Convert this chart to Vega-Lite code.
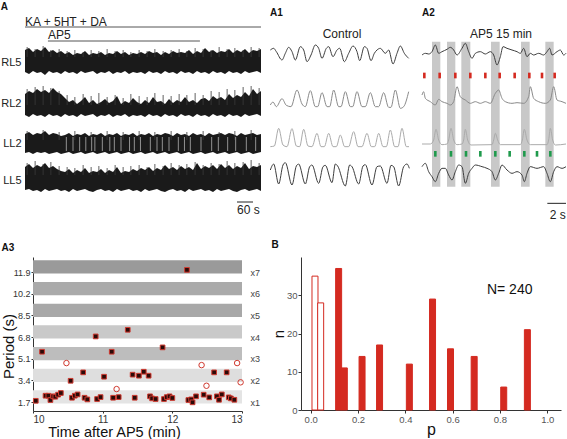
{
"$schema": "https://vega.github.io/schema/vega-lite/v6.json",
"padding": {"left": 0, "top": 1, "right": 0, "bottom": 0},
"config": {
  "font": "Liberation Sans",
  "view": {"stroke": null},
  "axis": {"labelFont": "Liberation Sans", "titleFont": "Liberation Sans", "labelColor": "#333", "titleColor": "#111", "domainColor": "#333", "tickColor": "#333", "grid": false, "titleFontWeight": "normal"},
  "title": {"font": "Liberation Sans", "fontSize": 10, "fontWeight": "bold", "anchor": "start", "frame": "bounds", "offset": 0, "color": "#111"}
},
"datasets": {
  "rawA": [
{"t":0,"r5t":45,"r5b":67,"r2t":89,"r2b":110,"l2t":129,"l2b":148,"l5t":162,"l5b":185},
{"t":15,"r5t":43,"r5b":69,"r2t":86,"r2b":112,"l2t":127,"l2b":147,"l5t":159,"l5b":184},
{"t":30,"r5t":47,"r5b":66,"r2t":88,"r2b":109,"l2t":130,"l2b":149,"l5t":163,"l5b":186},
{"t":45,"r5t":44,"r5b":68,"r2t":84,"r2b":111,"l2t":128,"l2b":147,"l5t":160,"l5b":185},
{"t":60,"r5t":46,"r5b":67,"r2t":87,"r2b":110,"l2t":129,"l2b":148,"l5t":162,"l5b":187},
{"t":75,"r5t":42,"r5b":70,"r2t":85,"r2b":112,"l2t":126,"l2b":147,"l5t":158,"l5b":184},
{"t":90,"r5t":47,"r5b":66,"r2t":88,"r2b":109,"l2t":130,"l2b":149,"l5t":163,"l5b":186},
{"t":105,"r5t":45,"r5b":68,"r2t":83,"r2b":111,"l2t":128,"l2b":148,"l5t":161,"l5b":185},
{"t":120,"r5t":48,"r5b":67,"r2t":87,"r2b":110,"l2t":129,"l2b":147,"l5t":164,"l5b":184},
{"t":135,"r5t":46,"r5b":69,"r2t":89,"r2b":112,"l2t":131,"l2b":149,"l5t":166,"l5b":186},
{"t":150,"r5t":49,"r5b":66,"r2t":93,"r2b":109,"l2t":130,"l2b":148,"l5t":167,"l5b":185},
{"t":165,"r5t":47,"r5b":68,"r2t":97,"r2b":111,"l2t":128,"l2b":147,"l5t":164,"l5b":187},
{"t":180,"r5t":50,"r5b":67,"r2t":95,"r2b":110,"l2t":131,"l2b":149,"l5t":168,"l5b":184},
{"t":195,"r5t":48,"r5b":69,"r2t":99,"r2b":112,"l2t":129,"l2b":148,"l5t":165,"l5b":186},
{"t":210,"r5t":49,"r5b":66,"r2t":96,"r2b":109,"l2t":130,"l2b":147,"l5t":167,"l5b":185},
{"t":225,"r5t":46,"r5b":68,"r2t":92,"r2b":111,"l2t":128,"l2b":149,"l5t":163,"l5b":184},
{"t":240,"r5t":50,"r5b":67,"r2t":98,"r2b":110,"l2t":131,"l2b":148,"l5t":168,"l5b":186},
{"t":255,"r5t":48,"r5b":66,"r2t":95,"r2b":109,"l2t":129,"l2b":147,"l5t":166,"l5b":187},
{"t":270,"r5t":49,"r5b":69,"r2t":99,"r2b":112,"l2t":130,"l2b":149,"l5t":167,"l5b":185},
{"t":285,"r5t":47,"r5b":67,"r2t":97,"r2b":110,"l2t":128,"l2b":148,"l5t":164,"l5b":184},
{"t":300,"r5t":50,"r5b":68,"r2t":94,"r2b":111,"l2t":131,"l2b":147,"l5t":168,"l5b":186},
{"t":315,"r5t":48,"r5b":66,"r2t":98,"r2b":109,"l2t":129,"l2b":149,"l5t":165,"l5b":185},
{"t":330,"r5t":49,"r5b":69,"r2t":96,"r2b":112,"l2t":130,"l2b":148,"l5t":167,"l5b":187},
{"t":345,"r5t":46,"r5b":67,"r2t":91,"r2b":110,"l2t":128,"l2b":147,"l5t":162,"l5b":184},
{"t":360,"r5t":49,"r5b":68,"r2t":99,"r2b":111,"l2t":131,"l2b":149,"l5t":168,"l5b":186},
{"t":375,"r5t":47,"r5b":66,"r2t":96,"r2b":109,"l2t":129,"l2b":148,"l5t":166,"l5b":185},
{"t":390,"r5t":50,"r5b":69,"r2t":98,"r2b":112,"l2t":130,"l2b":147,"l5t":167,"l5b":184},
{"t":405,"r5t":48,"r5b":67,"r2t":93,"r2b":110,"l2t":128,"l2b":149,"l5t":164,"l5b":186},
{"t":420,"r5t":49,"r5b":68,"r2t":97,"r2b":111,"l2t":131,"l2b":148,"l5t":166,"l5b":185},
{"t":435,"r5t":47,"r5b":67,"r2t":99,"r2b":110,"l2t":129,"l2b":147,"l5t":163,"l5b":187},
{"t":450,"r5t":49,"r5b":69,"r2t":95,"r2b":112,"l2t":130,"l2b":149,"l5t":165,"l5b":184},
{"t":465,"r5t":46,"r5b":66,"r2t":98,"r2b":109,"l2t":128,"l2b":148,"l5t":162,"l5b":186},
{"t":480,"r5t":48,"r5b":68,"r2t":92,"r2b":111,"l2t":131,"l2b":147,"l5t":166,"l5b":185},
{"t":495,"r5t":47,"r5b":67,"r2t":97,"r2b":110,"l2t":129,"l2b":149,"l5t":163,"l5b":184},
{"t":510,"r5t":50,"r5b":69,"r2t":96,"r2b":112,"l2t":130,"l2b":148,"l5t":165,"l5b":186},
{"t":525,"r5t":47,"r5b":66,"r2t":99,"r2b":109,"l2t":128,"l2b":147,"l5t":160,"l5b":187},
{"t":540,"r5t":49,"r5b":68,"r2t":94,"r2b":111,"l2t":129,"l2b":149,"l5t":164,"l5b":185},
{"t":555,"r5t":46,"r5b":67,"r2t":98,"r2b":110,"l2t":131,"l2b":148,"l5t":162,"l5b":184},
{"t":570,"r5t":48,"r5b":69,"r2t":95,"r2b":112,"l2t":128,"l2b":147,"l5t":165,"l5b":186},
{"t":585,"r5t":47,"r5b":66,"r2t":97,"r2b":109,"l2t":130,"l2b":149,"l5t":161,"l5b":185},
{"t":600,"r5t":48,"r5b":68,"r2t":92,"r2b":111,"l2t":129,"l2b":148,"l5t":164,"l5b":187},
{"t":615,"r5t":45,"r5b":67,"r2t":97,"r2b":110,"l2t":131,"l2b":147,"l5t":162,"l5b":184},
{"t":630,"r5t":49,"r5b":69,"r2t":95,"r2b":112,"l2t":128,"l2b":149,"l5t":165,"l5b":186},
{"t":645,"r5t":46,"r5b":66,"r2t":98,"r2b":109,"l2t":130,"l2b":148,"l5t":158,"l5b":185},
{"t":660,"r5t":48,"r5b":68,"r2t":94,"r2b":111,"l2t":129,"l2b":147,"l5t":164,"l5b":184},
{"t":675,"r5t":43,"r5b":67,"r2t":93,"r2b":110,"l2t":131,"l2b":149,"l5t":161,"l5b":186},
{"t":690,"r5t":47,"r5b":69,"r2t":96,"r2b":112,"l2t":128,"l2b":148,"l5t":163,"l5b":185},
{"t":705,"r5t":45,"r5b":66,"r2t":91,"r2b":109,"l2t":130,"l2b":147,"l5t":160,"l5b":187},
{"t":720,"r5t":48,"r5b":68,"r2t":94,"r2b":111,"l2t":129,"l2b":149,"l5t":164,"l5b":184},
{"t":735,"r5t":46,"r5b":67,"r2t":92,"r2b":110,"l2t":128,"l2b":148,"l5t":159,"l5b":186},
{"t":750,"r5t":47,"r5b":69,"r2t":95,"r2b":112,"l2t":130,"l2b":147,"l5t":163,"l5b":185},
{"t":765,"r5t":44,"r5b":66,"r2t":89,"r2b":109,"l2t":128,"l2b":149,"l5t":160,"l5b":184},
{"t":780,"r5t":48,"r5b":68,"r2t":93,"r2b":111,"l2t":129,"l2b":148,"l5t":164,"l5b":186},
{"t":795,"r5t":45,"r5b":67,"r2t":90,"r2b":110,"l2t":131,"l2b":147,"l5t":161,"l5b":187},
{"t":810,"r5t":47,"r5b":69,"r2t":92,"r2b":112,"l2t":128,"l2b":149,"l5t":163,"l5b":185},
{"t":825,"r5t":44,"r5b":66,"r2t":87,"r2b":109,"l2t":130,"l2b":148,"l5t":158,"l5b":184},
{"t":840,"r5t":48,"r5b":68,"r2t":91,"r2b":111,"l2t":129,"l2b":147,"l5t":164,"l5b":186},
{"t":855,"r5t":45,"r5b":67,"r2t":84,"r2b":110,"l2t":128,"l2b":149,"l5t":161,"l5b":185},
{"t":870,"r5t":46,"r5b":66,"r2t":89,"r2b":109,"l2t":130,"l2b":148,"l5t":162,"l5b":184},
{"t":885,"r5t":44,"r5b":68,"r2t":86,"r2b":111,"l2t":129,"l2b":147,"l5t":160,"l5b":186}
  ],
  "spikesA": [
{"t":8,"a":42,"b":52},{"t":38,"a":44,"b":52},{"t":68,"a":41,"b":52},{"t":97,"a":45,"b":52},{"t":128,"a":44,"b":52},{"t":158,"a":46,"b":52},{"t":187,"a":45,"b":52},{"t":218,"a":47,"b":52},{"t":248,"a":45,"b":52},{"t":277,"a":46,"b":52},{"t":308,"a":44,"b":52},{"t":338,"a":46,"b":52},{"t":368,"a":45,"b":52},{"t":397,"a":47,"b":52},{"t":428,"a":45,"b":52},{"t":458,"a":46,"b":52},{"t":487,"a":44,"b":52},{"t":518,"a":46,"b":52},{"t":548,"a":45,"b":52},{"t":578,"a":44,"b":52},{"t":607,"a":46,"b":52},{"t":638,"a":43,"b":52},{"t":668,"a":44,"b":52},{"t":698,"a":45,"b":52},{"t":728,"a":42,"b":52},{"t":758,"a":44,"b":52},{"t":787,"a":43,"b":52},{"t":818,"a":45,"b":52},{"t":848,"a":42,"b":52},{"t":878,"a":43,"b":52},
{"t":8,"a":84,"b":100},{"t":38,"a":82,"b":100},{"t":68,"a":81,"b":100},{"t":97,"a":83,"b":100},{"t":128,"a":86,"b":100},{"t":158,"a":90,"b":100},{"t":187,"a":92,"b":100},{"t":218,"a":89,"b":100},{"t":248,"a":91,"b":100},{"t":277,"a":88,"b":100},{"t":308,"a":92,"b":100},{"t":338,"a":90,"b":100},{"t":368,"a":93,"b":100},{"t":397,"a":89,"b":100},{"t":428,"a":91,"b":100},{"t":458,"a":92,"b":100},{"t":487,"a":88,"b":100},{"t":518,"a":90,"b":100},{"t":548,"a":91,"b":100},{"t":578,"a":89,"b":100},{"t":607,"a":90,"b":100},{"t":638,"a":88,"b":100},{"t":668,"a":90,"b":100},{"t":698,"a":86,"b":100},{"t":728,"a":87,"b":100},{"t":758,"a":84,"b":100},{"t":787,"a":85,"b":100},{"t":818,"a":82,"b":100},{"t":848,"a":81,"b":100},{"t":878,"a":83,"b":100},
{"t":8,"a":126,"b":135},{"t":68,"a":125,"b":135},{"t":128,"a":127,"b":135},{"t":187,"a":126,"b":135},{"t":248,"a":127,"b":135},{"t":308,"a":126,"b":135},{"t":368,"a":127,"b":135},{"t":428,"a":126,"b":135},{"t":487,"a":127,"b":135},{"t":548,"a":126,"b":135},{"t":607,"a":127,"b":135},{"t":668,"a":126,"b":135},{"t":728,"a":127,"b":135},{"t":787,"a":126,"b":135},{"t":848,"a":125,"b":135},
{"t":8,"a":158,"b":170},{"t":38,"a":156,"b":170},{"t":68,"a":159,"b":170},{"t":97,"a":157,"b":170},{"t":128,"a":161,"b":170},{"t":158,"a":162,"b":170},{"t":187,"a":163,"b":170},{"t":218,"a":160,"b":170},{"t":248,"a":162,"b":170},{"t":277,"a":161,"b":170},{"t":308,"a":163,"b":170},{"t":338,"a":160,"b":170},{"t":368,"a":162,"b":170},{"t":397,"a":161,"b":170},{"t":428,"a":160,"b":170},{"t":458,"a":162,"b":170},{"t":487,"a":159,"b":170},{"t":518,"a":161,"b":170},{"t":548,"a":158,"b":170},{"t":578,"a":160,"b":170},{"t":607,"a":159,"b":170},{"t":638,"a":157,"b":170},{"t":668,"a":160,"b":170},{"t":698,"a":158,"b":170},{"t":728,"a":159,"b":170},{"t":758,"a":156,"b":170},{"t":787,"a":158,"b":170},{"t":818,"a":157,"b":170},{"t":848,"a":155,"b":170},{"t":878,"a":158,"b":170}
  ],
  "gapsLL2": [{"t":155},{"t":180},{"t":205},{"t":228},{"t":250},{"t":262},{"t":290},{"t":318},{"t":335},{"t":360},{"t":392},{"t":410},{"t":433},{"t":470},{"t":495},{"t":515},{"t":540},{"t":575},{"t":598},{"t":620},{"t":660},{"t":700},{"t":725},{"t":760},{"t":790},{"t":830},{"t":865}],
  "a1": [
{"tr":"t1","x":10,"y":30},{"tr":"t1","x":20,"y":25},{"tr":"t1","x":28,"y":35},{"tr":"t1","x":45,"y":60},{"tr":"t1","x":55,"y":40},{"tr":"t1","x":65,"y":22},{"tr":"t1","x":75,"y":35},{"tr":"t1","x":85,"y":60},{"tr":"t1","x":100,"y":20},{"tr":"t1","x":110,"y":30},{"tr":"t1","x":120,"y":65},{"tr":"t1","x":132,"y":45},{"tr":"t1","x":145,"y":15},{"tr":"t1","x":155,"y":25},{"tr":"t1","x":165,"y":55},{"tr":"t1","x":178,"y":25},{"tr":"t1","x":185,"y":20},{"tr":"t1","x":198,"y":50},{"tr":"t1","x":210,"y":30},{"tr":"t1","x":218,"y":25},{"tr":"t1","x":232,"y":65},{"tr":"t1","x":245,"y":40},{"tr":"t1","x":258,"y":18},{"tr":"t1","x":270,"y":35},{"tr":"t1","x":278,"y":62},{"tr":"t1","x":292,"y":20},{"tr":"t1","x":300,"y":25},{"tr":"t1","x":312,"y":62},{"tr":"t1","x":322,"y":40},{"tr":"t1","x":330,"y":30},{"tr":"t1","x":340,"y":25},{"tr":"t1","x":355,"y":40},{"tr":"t1","x":365,"y":30},{"tr":"t1","x":378,"y":72},{"tr":"t1","x":390,"y":40},{"tr":"t1","x":400,"y":18},{"tr":"t1","x":412,"y":40},{"tr":"t1","x":425,"y":55},
{"tr":"t2","x":10,"y":195},{"tr":"t2","x":18,"y":186},{"tr":"t2","x":28,"y":200},{"tr":"t2","x":45,"y":176},{"tr":"t2","x":58,"y":196},{"tr":"t2","x":72,"y":200},{"tr":"t2","x":90,"y":150},{"tr":"t2","x":105,"y":192},{"tr":"t2","x":115,"y":200},{"tr":"t2","x":130,"y":152},{"tr":"t2","x":145,"y":200},{"tr":"t2","x":152,"y":200},{"tr":"t2","x":165,"y":158},{"tr":"t2","x":180,"y":200},{"tr":"t2","x":188,"y":200},{"tr":"t2","x":200,"y":150},{"tr":"t2","x":215,"y":200},{"tr":"t2","x":222,"y":200},{"tr":"t2","x":235,"y":155},{"tr":"t2","x":250,"y":200},{"tr":"t2","x":257,"y":200},{"tr":"t2","x":270,"y":155},{"tr":"t2","x":285,"y":200},{"tr":"t2","x":295,"y":200},{"tr":"t2","x":310,"y":158},{"tr":"t2","x":325,"y":200},{"tr":"t2","x":335,"y":200},{"tr":"t2","x":350,"y":158},{"tr":"t2","x":365,"y":202},{"tr":"t2","x":372,"y":202},{"tr":"t2","x":385,"y":150},{"tr":"t2","x":400,"y":205},{"tr":"t2","x":410,"y":200},{"tr":"t2","x":425,"y":155},
{"tr":"t3","x":10,"y":320},{"tr":"t3","x":22,"y":318},{"tr":"t3","x":35,"y":265},{"tr":"t3","x":48,"y":315},{"tr":"t3","x":60,"y":320},{"tr":"t3","x":75,"y":266},{"tr":"t3","x":88,"y":318},{"tr":"t3","x":98,"y":320},{"tr":"t3","x":110,"y":268},{"tr":"t3","x":123,"y":318},{"tr":"t3","x":135,"y":320},{"tr":"t3","x":150,"y":280},{"tr":"t3","x":162,"y":320},{"tr":"t3","x":172,"y":320},{"tr":"t3","x":185,"y":280},{"tr":"t3","x":198,"y":320},{"tr":"t3","x":208,"y":320},{"tr":"t3","x":220,"y":285},{"tr":"t3","x":233,"y":320},{"tr":"t3","x":245,"y":320},{"tr":"t3","x":260,"y":275},{"tr":"t3","x":273,"y":320},{"tr":"t3","x":285,"y":320},{"tr":"t3","x":300,"y":280},{"tr":"t3","x":313,"y":320},{"tr":"t3","x":323,"y":320},{"tr":"t3","x":335,"y":280},{"tr":"t3","x":348,"y":320},{"tr":"t3","x":358,"y":320},{"tr":"t3","x":370,"y":270},{"tr":"t3","x":383,"y":320},{"tr":"t3","x":393,"y":320},{"tr":"t3","x":405,"y":265},{"tr":"t3","x":418,"y":320},{"tr":"t3","x":426,"y":320},
{"tr":"t4","x":10,"y":390},{"tr":"t4","x":20,"y":372},{"tr":"t4","x":35,"y":432},{"tr":"t4","x":48,"y":375},{"tr":"t4","x":55,"y":368},{"tr":"t4","x":75,"y":435},{"tr":"t4","x":88,"y":378},{"tr":"t4","x":95,"y":372},{"tr":"t4","x":115,"y":432},{"tr":"t4","x":128,"y":380},{"tr":"t4","x":135,"y":375},{"tr":"t4","x":155,"y":430},{"tr":"t4","x":168,"y":380},{"tr":"t4","x":175,"y":376},{"tr":"t4","x":195,"y":428},{"tr":"t4","x":205,"y":372},{"tr":"t4","x":212,"y":378},{"tr":"t4","x":235,"y":438},{"tr":"t4","x":248,"y":375},{"tr":"t4","x":255,"y":380},{"tr":"t4","x":275,"y":432},{"tr":"t4","x":288,"y":378},{"tr":"t4","x":295,"y":374},{"tr":"t4","x":315,"y":435},{"tr":"t4","x":330,"y":380},{"tr":"t4","x":340,"y":378},{"tr":"t4","x":360,"y":430},{"tr":"t4","x":372,"y":376},{"tr":"t4","x":380,"y":380},{"tr":"t4","x":395,"y":438},{"tr":"t4","x":410,"y":380},{"tr":"t4","x":420,"y":372},{"tr":"t4","x":427,"y":385}
  ],
  "a2": [
{"tr":"t1","x":15,"y":45},{"tr":"t1","x":25,"y":40},{"tr":"t1","x":35,"y":42},{"tr":"t1","x":45,"y":35},{"tr":"t1","x":55,"y":15},{"tr":"t1","x":65,"y":40},{"tr":"t1","x":75,"y":35},{"tr":"t1","x":90,"y":28},{"tr":"t1","x":100,"y":22},{"tr":"t1","x":110,"y":30},{"tr":"t1","x":120,"y":45},{"tr":"t1","x":135,"y":25},{"tr":"t1","x":145,"y":10},{"tr":"t1","x":155,"y":35},{"tr":"t1","x":165,"y":55},{"tr":"t1","x":175,"y":40},{"tr":"t1","x":190,"y":35},{"tr":"t1","x":205,"y":42},{"tr":"t1","x":220,"y":35},{"tr":"t1","x":230,"y":45},{"tr":"t1","x":240,"y":75},{"tr":"t1","x":250,"y":50},{"tr":"t1","x":258,"y":20},{"tr":"t1","x":270,"y":25},{"tr":"t1","x":285,"y":30},{"tr":"t1","x":300,"y":35},{"tr":"t1","x":310,"y":40},{"tr":"t1","x":320,"y":25},{"tr":"t1","x":330,"y":50},{"tr":"t1","x":340,"y":40},{"tr":"t1","x":350,"y":45},{"tr":"t1","x":365,"y":40},{"tr":"t1","x":380,"y":45},{"tr":"t1","x":390,"y":35},{"tr":"t1","x":398,"y":25},{"tr":"t1","x":405,"y":45},{"tr":"t1","x":420,"y":35},{"tr":"t1","x":430,"y":30},{"tr":"t1","x":440,"y":45},{"tr":"t1","x":447,"y":40},
{"tr":"t2","x":15,"y":165},{"tr":"t2","x":20,"y":155},{"tr":"t2","x":25,"y":175},{"tr":"t2","x":40,"y":185},{"tr":"t2","x":55,"y":195},{"tr":"t2","x":65,"y":178},{"tr":"t2","x":75,"y":185},{"tr":"t2","x":90,"y":190},{"tr":"t2","x":100,"y":195},{"tr":"t2","x":110,"y":185},{"tr":"t2","x":120,"y":140},{"tr":"t2","x":130,"y":170},{"tr":"t2","x":145,"y":180},{"tr":"t2","x":160,"y":190},{"tr":"t2","x":175,"y":185},{"tr":"t2","x":190,"y":190},{"tr":"t2","x":205,"y":185},{"tr":"t2","x":220,"y":190},{"tr":"t2","x":235,"y":160},{"tr":"t2","x":245,"y":150},{"tr":"t2","x":255,"y":175},{"tr":"t2","x":265,"y":185},{"tr":"t2","x":285,"y":190},{"tr":"t2","x":300,"y":188},{"tr":"t2","x":320,"y":190},{"tr":"t2","x":335,"y":170},{"tr":"t2","x":340,"y":140},{"tr":"t2","x":350,"y":175},{"tr":"t2","x":365,"y":185},{"tr":"t2","x":385,"y":190},{"tr":"t2","x":400,"y":180},{"tr":"t2","x":410,"y":140},{"tr":"t2","x":420,"y":180},{"tr":"t2","x":435,"y":185},{"tr":"t2","x":447,"y":190},
{"tr":"t3","x":15,"y":312},{"tr":"t3","x":40,"y":312},{"tr":"t3","x":50,"y":300},{"tr":"t3","x":57,"y":268},{"tr":"t3","x":65,"y":300},{"tr":"t3","x":75,"y":314},{"tr":"t3","x":90,"y":312},{"tr":"t3","x":95,"y":300},{"tr":"t3","x":102,"y":265},{"tr":"t3","x":110,"y":300},{"tr":"t3","x":120,"y":314},{"tr":"t3","x":135,"y":312},{"tr":"t3","x":140,"y":300},{"tr":"t3","x":145,"y":268},{"tr":"t3","x":152,"y":300},{"tr":"t3","x":162,"y":315},{"tr":"t3","x":225,"y":314},{"tr":"t3","x":230,"y":300},{"tr":"t3","x":235,"y":280},{"tr":"t3","x":242,"y":300},{"tr":"t3","x":250,"y":314},{"tr":"t3","x":310,"y":314},{"tr":"t3","x":316,"y":300},{"tr":"t3","x":322,"y":268},{"tr":"t3","x":330,"y":300},{"tr":"t3","x":340,"y":314},{"tr":"t3","x":390,"y":314},{"tr":"t3","x":395,"y":300},{"tr":"t3","x":400,"y":265},{"tr":"t3","x":407,"y":300},{"tr":"t3","x":415,"y":315},{"tr":"t3","x":447,"y":312},
{"tr":"t4","x":15,"y":380},{"tr":"t4","x":25,"y":370},{"tr":"t4","x":35,"y":395},{"tr":"t4","x":45,"y":410},{"tr":"t4","x":55,"y":425},{"tr":"t4","x":65,"y":400},{"tr":"t4","x":75,"y":385},{"tr":"t4","x":85,"y":385},{"tr":"t4","x":95,"y":405},{"tr":"t4","x":105,"y":420},{"tr":"t4","x":115,"y":395},{"tr":"t4","x":125,"y":375},{"tr":"t4","x":135,"y":380},{"tr":"t4","x":145,"y":430},{"tr":"t4","x":155,"y":400},{"tr":"t4","x":165,"y":385},{"tr":"t4","x":175,"y":375},{"tr":"t4","x":195,"y":380},{"tr":"t4","x":210,"y":385},{"tr":"t4","x":225,"y":395},{"tr":"t4","x":235,"y":420},{"tr":"t4","x":245,"y":400},{"tr":"t4","x":255,"y":375},{"tr":"t4","x":270,"y":390},{"tr":"t4","x":285,"y":400},{"tr":"t4","x":300,"y":395},{"tr":"t4","x":315,"y":405},{"tr":"t4","x":322,"y":425},{"tr":"t4","x":330,"y":400},{"tr":"t4","x":340,"y":380},{"tr":"t4","x":360,"y":385},{"tr":"t4","x":380,"y":380},{"tr":"t4","x":390,"y":400},{"tr":"t4","x":400,"y":425},{"tr":"t4","x":410,"y":395},{"tr":"t4","x":420,"y":380},{"tr":"t4","x":435,"y":385},{"tr":"t4","x":447,"y":380}
  ],
  "bursts": [{"s":45,"e":70},{"s":90,"e":115},{"s":133,"e":160},{"s":222,"e":248},{"s":312,"e":338},{"s":385,"e":410}],
  "redTicks": [{"x":22},{"x":68},{"x":115},{"x":160},{"x":205},{"x":248},{"x":293},{"x":337},{"x":375},{"x":413}],
  "greenTicks": [{"x":55},{"x":102},{"x":147},{"x":190},{"x":235},{"x":278},{"x":322},{"x":360},{"x":400}],
  "bands": [{"k":"x1","lo":1.58,"hi":2.62},{"k":"x2","lo":3.28,"hi":4.32},{"k":"x3","lo":4.98,"hi":6.02},{"k":"x4","lo":6.68,"hi":7.72},{"k":"x5","lo":8.38,"hi":9.42},{"k":"x6","lo":10.08,"hi":11.12},{"k":"x7","lo":11.78,"hi":12.82}],
  "periods": [
{"t":10.04,"p":1.80,"kind":"sq"},{"t":10.18,"p":2.20,"kind":"sq"},{"t":10.22,"p":2.20,"kind":"sq"},{"t":10.25,"p":1.86,"kind":"sq"},{"t":10.29,"p":2.15,"kind":"sq"},{"t":10.32,"p":2.12,"kind":"sq"},{"t":10.36,"p":2.28,"kind":"sq"},{"t":10.40,"p":2.41,"kind":"sq"},{"t":10.56,"p":2.04,"kind":"sq"},{"t":10.60,"p":2.20,"kind":"sq"},{"t":10.64,"p":2.30,"kind":"sq"},{"t":10.74,"p":2.04,"kind":"sq"},{"t":10.78,"p":1.91,"kind":"sq"},{"t":10.92,"p":1.94,"kind":"sq"},{"t":10.97,"p":2.09,"kind":"sq"},{"t":11.15,"p":2.04,"kind":"sq"},{"t":11.23,"p":2.09,"kind":"sq"},{"t":11.46,"p":2.04,"kind":"sq"},{"t":11.68,"p":2.15,"kind":"sq"},{"t":11.71,"p":1.99,"kind":"sq"},{"t":11.76,"p":1.94,"kind":"sq"},{"t":11.88,"p":1.94,"kind":"sq"},{"t":11.92,"p":2.09,"kind":"sq"},{"t":11.96,"p":2.15,"kind":"sq"},{"t":12.00,"p":2.02,"kind":"sq"},{"t":12.23,"p":1.86,"kind":"sq"},{"t":12.27,"p":1.91,"kind":"sq"},{"t":12.29,"p":1.68,"kind":"sq"},{"t":12.34,"p":2.15,"kind":"sq"},{"t":12.45,"p":2.28,"kind":"sq"},{"t":12.53,"p":2.07,"kind":"sq"},{"t":12.64,"p":2.15,"kind":"sq"},{"t":12.67,"p":1.88,"kind":"sq"},{"t":12.71,"p":2.30,"kind":"sq"},{"t":12.81,"p":2.07,"kind":"sq"},{"t":12.84,"p":1.99,"kind":"sq"},{"t":12.89,"p":1.88,"kind":"sq"},
{"t":10.54,"p":3.37,"kind":"sq"},{"t":10.72,"p":4.03,"kind":"sq"},{"t":11.02,"p":3.69,"kind":"sq"},{"t":11.43,"p":3.85,"kind":"sq"},{"t":11.52,"p":3.77,"kind":"sq"},{"t":11.59,"p":4.08,"kind":"sq"},{"t":11.66,"p":3.77,"kind":"sq"},{"t":12.60,"p":4.03,"kind":"sq"},{"t":12.78,"p":4.03,"kind":"sq"},
{"t":10.13,"p":5.65,"kind":"sq"},{"t":11.13,"p":5.65,"kind":"sq"},{"t":11.86,"p":5.99,"kind":"sq"},{"t":10.90,"p":6.85,"kind":"sq"},{"t":11.36,"p":7.37,"kind":"sq"},{"t":12.21,"p":12.07,"kind":"sq"},
{"t":10.48,"p":4.76,"kind":"ci"},{"t":11.20,"p":2.72,"kind":"ci"},{"t":12.42,"p":4.60,"kind":"ci"},{"t":12.49,"p":2.98,"kind":"ci"},{"t":12.93,"p":4.76,"kind":"ci"},{"t":12.98,"p":3.25,"kind":"ci"}
  ],
  "hist": [
{"p":0.018,"n":35,"kind":"open"},{"p":0.042,"n":28,"kind":"open"},{"p":0.118,"n":37,"kind":"filled"},{"p":0.142,"n":11,"kind":"filled"},{"p":0.217,"n":14,"kind":"filled"},{"p":0.291,"n":17,"kind":"filled"},{"p":0.417,"n":12,"kind":"filled"},{"p":0.515,"n":29,"kind":"filled"},{"p":0.591,"n":16,"kind":"filled"},{"p":0.691,"n":14,"kind":"filled"},{"p":0.816,"n":6,"kind":"filled"},{"p":0.916,"n":21,"kind":"filled"}
  ]
},
"concat": [
 {"hconcat": [
  {
   "width": 228, "height": 197,
   "title": {"text": "A"},
   "layer": [
    {"data": {"name": "rawA"}, "mark": {"type": "area", "color": "#1a1a1a"},
     "encoding": {
       "x": {"field": "t", "type": "quantitative", "scale": {"domain": [30, 885], "nice": false, "zero": false}, "axis": null},
       "y": {"field": "r5t", "type": "quantitative", "scale": {"domain": [17, 214], "reverse": true, "nice": false, "zero": false},
             "axis": {"values": [57, 98, 138, 175], "labelExpr": "datum.value == 57 ? 'RL5' : datum.value == 98 ? 'RL2' : datum.value == 138 ? 'LL2' : 'LL5'", "domain": false, "ticks": false, "offset": 8, "labelFontSize": 11, "labelColor": "#222", "labelPadding": 4, "title": null}},
       "y2": {"field": "r5b"}}},
    {"data": {"name": "rawA"}, "mark": {"type": "area", "color": "#1a1a1a"},
     "encoding": {"x": {"field": "t", "type": "quantitative"}, "y": {"field": "r2t", "type": "quantitative"}, "y2": {"field": "r2b"}}},
    {"data": {"name": "rawA"}, "mark": {"type": "area", "color": "#1a1a1a"},
     "encoding": {"x": {"field": "t", "type": "quantitative"}, "y": {"field": "l2t", "type": "quantitative"}, "y2": {"field": "l2b"}}},
    {"data": {"name": "rawA"}, "mark": {"type": "area", "color": "#1a1a1a"},
     "encoding": {"x": {"field": "t", "type": "quantitative"}, "y": {"field": "l5t", "type": "quantitative"}, "y2": {"field": "l5b"}}},
    {"data": {"name": "spikesA"}, "mark": {"type": "rule", "color": "#3a3a3a", "strokeWidth": 0.8},
     "encoding": {"x": {"field": "t", "type": "quantitative"}, "y": {"field": "a", "type": "quantitative"}, "y2": {"field": "b"}}},
    {"data": {"name": "gapsLL2"}, "mark": {"type": "rule", "color": "#b0b0b0", "strokeWidth": 0.8},
     "encoding": {"x": {"field": "t", "type": "quantitative"}, "y": {"datum": 132}, "y2": {"datum": 146}}},
    {"data": {"values": [{"from": 0, "to": 885, "lvl": 22, "label": "KA + 5HT + DA", "ly": 20.5}, {"from": 86, "to": 656, "lvl": 36, "label": "AP5", "ly": 34}]},
     "layer": [
       {"mark": {"type": "rule", "color": "#555", "strokeWidth": 1},
        "encoding": {"x": {"field": "from", "type": "quantitative"}, "x2": {"field": "to"}, "y": {"field": "lvl", "type": "quantitative"}}},
       {"mark": {"type": "text", "align": "left", "baseline": "alphabetic", "fontSize": 12, "color": "#222"},
        "encoding": {"x": {"field": "from", "type": "quantitative"}, "y": {"field": "ly", "type": "quantitative"}, "text": {"field": "label"}}}
     ]},
    {"data": {"values": [{"a": 795, "b": 855, "label": "60 s"}]},
     "layer": [
       {"mark": {"type": "rule", "color": "#222", "strokeWidth": 1},
        "encoding": {"x": {"field": "a", "type": "quantitative"}, "x2": {"field": "b"}, "y": {"datum": 197}}},
       {"mark": {"type": "text", "align": "right", "baseline": "middle", "fontSize": 12, "color": "#222"},
        "encoding": {"x": {"datum": 880}, "y": {"datum": 205}, "text": {"field": "label"}}}
     ]}
   ]
  },
  {
   "width": 144, "height": 197,
   "title": {"text": "A1", "frame": "group"},
   "layer": [
    {"data": {"name": "a1"}, "mark": {"type": "line", "strokeWidth": 1, "interpolate": "monotone"},
     "encoding": {
       "x": {"field": "x", "type": "quantitative", "scale": {"domain": [9, 441], "nice": false, "zero": false}, "axis": null},
       "y": {"field": "y", "type": "quantitative", "scale": {"domain": [-54, 537], "reverse": true, "nice": false, "zero": false}, "axis": null},
       "color": {"field": "tr", "type": "nominal", "scale": {"domain": ["t1", "t2", "t3", "t4"], "range": ["#3d3d3d", "#8a8a8a", "#ababab", "#3d3d3d"]}, "legend": null}}},
    {"data": {"values": [{"label": "Control"}]}, "mark": {"type": "text", "fontSize": 12, "color": "#222", "baseline": "middle"},
     "encoding": {"x": {"datum": 225}, "y": {"datum": -18}, "text": {"field": "label"}}}
   ]
  },
  {
   "width": 144, "height": 197,
   "title": {"text": "A2", "frame": "group"},
   "layer": [
    {"data": {"name": "bursts"}, "mark": {"type": "rect", "color": "#c8c8c8"},
     "encoding": {
       "x": {"field": "s", "type": "quantitative", "scale": {"domain": [15, 447], "nice": false, "zero": false}, "axis": null},
       "x2": {"field": "e"},
       "y": {"datum": 5, "scale": {"domain": [-54, 537], "reverse": true, "nice": false, "zero": false}, "axis": null},
       "y2": {"datum": 440}}},
    {"data": {"name": "a2"}, "mark": {"type": "line", "strokeWidth": 1, "interpolate": "monotone"},
     "encoding": {
       "x": {"field": "x", "type": "quantitative"},
       "y": {"field": "y", "type": "quantitative"},
       "color": {"field": "tr", "type": "nominal", "scale": {"domain": ["t1", "t2", "t3", "t4"], "range": ["#3d3d3d", "#8a8a8a", "#ababab", "#3d3d3d"]}, "legend": null}}},
    {"data": {"name": "redTicks"}, "mark": {"type": "rule", "color": "#d42a20", "strokeWidth": 2.6},
     "encoding": {"x": {"field": "x", "type": "quantitative"}, "y": {"datum": 98}, "y2": {"datum": 115}}},
    {"data": {"name": "greenTicks"}, "mark": {"type": "rule", "color": "#1f9a4c", "strokeWidth": 2.6},
     "encoding": {"x": {"field": "x", "type": "quantitative"}, "y": {"datum": 333}, "y2": {"datum": 350}}},
    {"data": {"values": [{"label": "AP5 15 min", "a": 391, "b": 447, "s": "2 s"}]},
     "layer": [
       {"mark": {"type": "text", "fontSize": 12, "color": "#222", "baseline": "middle"},
        "encoding": {"x": {"datum": 252}, "y": {"datum": -18}, "text": {"field": "label"}}},
       {"mark": {"type": "rule", "color": "#222", "strokeWidth": 1},
        "encoding": {"x": {"field": "a", "type": "quantitative"}, "x2": {"field": "b"}, "y": {"datum": 490}}},
       {"mark": {"type": "text", "fontSize": 12, "color": "#222", "baseline": "middle", "align": "right"},
        "encoding": {"x": {"datum": 446}, "y": {"datum": 525}, "text": {"field": "s"}}}
     ]}
   ]
  }
 ], "spacing": 6},
 {"hconcat": [
  {
   "width": 209, "height": 154,
   "title": {"text": "A3", "offset": 4},
   "layer": [
    {"data": {"name": "bands"}, "mark": {"type": "rect"},
     "encoding": {
       "y": {"field": "lo", "type": "quantitative", "scale": {"domain": [1.0, 13.08], "nice": false, "zero": false},
             "axis": {"values": [1.7, 3.4, 5.1, 6.8, 8.5, 10.2, 11.9], "format": ".1f", "labelFontSize": 9, "tickSize": 2, "labelPadding": 1, "title": "Period (s)", "titleFontSize": 15, "titlePadding": -4, "titleY": 89}},
       "y2": {"field": "hi"},
       "color": {"field": "k", "type": "nominal", "scale": {"domain": ["x1", "x2", "x3", "x4", "x5", "x6", "x7"], "range": ["#e4e4e4", "#dedede", "#bdbdbd", "#c9c9c9", "#a8a8a8", "#aaaaaa", "#9a9a9a"]}, "legend": null}}},
    {"data": {"name": "periods"}, "transform": [{"filter": "datum.kind == 'sq'"}],
     "mark": {"type": "square", "size": 22, "filled": true, "color": "#2b0a08", "stroke": "#d03a30", "strokeWidth": 1, "opacity": 1},
     "encoding": {
       "x": {"field": "t", "type": "quantitative", "scale": {"domain": [10, 13], "nice": false, "zero": false},
             "axis": {"values": [10, 11, 12, 13], "format": "d", "labelFontSize": 10, "tickSize": 2, "labelPadding": 1, "title": "Time after AP5 (min)", "titleFontSize": 14.5, "titleBaseline": "alphabetic", "titleY": 25, "titleX": 81}},
       "y": {"field": "p", "type": "quantitative",
             "axis": {"orient": "right", "values": [1.7, 3.4, 5.1, 6.8, 8.5, 10.2, 11.9], "labelExpr": "'x' + round(datum.value / 1.7)", "domain": false, "ticks": false, "labelPadding": 8, "labelFontSize": 9, "labelColor": "#444", "title": null}}}},
    {"data": {"name": "periods"}, "transform": [{"filter": "datum.kind == 'ci'"}],
     "mark": {"type": "point", "shape": "circle", "size": 30, "filled": false, "color": "#d03a30", "strokeWidth": 1, "opacity": 1},
     "encoding": {"x": {"field": "t", "type": "quantitative"}, "y": {"field": "p", "type": "quantitative", "axis": null}}}
   ],
   "resolve": {"axis": {"y": "independent"}}
  },
  {
   "width": 260, "height": 153,
   "title": {"text": "B", "offset": 4, "dy": -3},
   "layer": [
    {"data": {"name": "hist"}, "mark": {"type": "bar", "width": 6, "stroke": "#d42a20", "strokeWidth": 1},
     "encoding": {
       "x": {"field": "p", "type": "quantitative", "scale": {"domain": [-0.02, 1.037], "nice": false, "zero": false},
             "axis": {"values": [0, 0.2, 0.4, 0.6, 0.8, 1.0], "format": ".1f", "labelFontSize": 9.5, "labelColor": "#555", "tickSize": 3, "labelPadding": 1, "title": "p", "titleFontSize": 16, "titleBaseline": "alphabetic", "titleY": 24}},
       "y": {"field": "n", "type": "quantitative", "scale": {"domain": [0, 40], "nice": false},
             "axis": {"values": [0, 10, 20, 30], "labelFontSize": 9.5, "labelColor": "#555", "tickSize": 3, "labelPadding": 1, "title": "n", "titleFontSize": 15, "titlePadding": 0}},
       "fill": {"field": "kind", "type": "nominal", "scale": {"domain": ["open", "filled"], "range": ["#ffffff", "#d42a20"]}, "legend": null}}},
    {"data": {"values": [{"label": "N= 240"}]}, "mark": {"type": "text", "align": "left", "baseline": "middle", "fontSize": 14, "color": "#111"},
     "encoding": {"x": {"datum": 0.745}, "y": {"datum": 31.4}, "text": {"field": "label"}}}
   ]
  }
 ], "spacing": 11, "resolve": {"scale": {"color": "independent", "fill": "independent"}}}
],
"columns": 1,
"align": "none",
"spacing": 19,
"resolve": {"scale": {"color": "independent", "fill": "independent"}}
}
